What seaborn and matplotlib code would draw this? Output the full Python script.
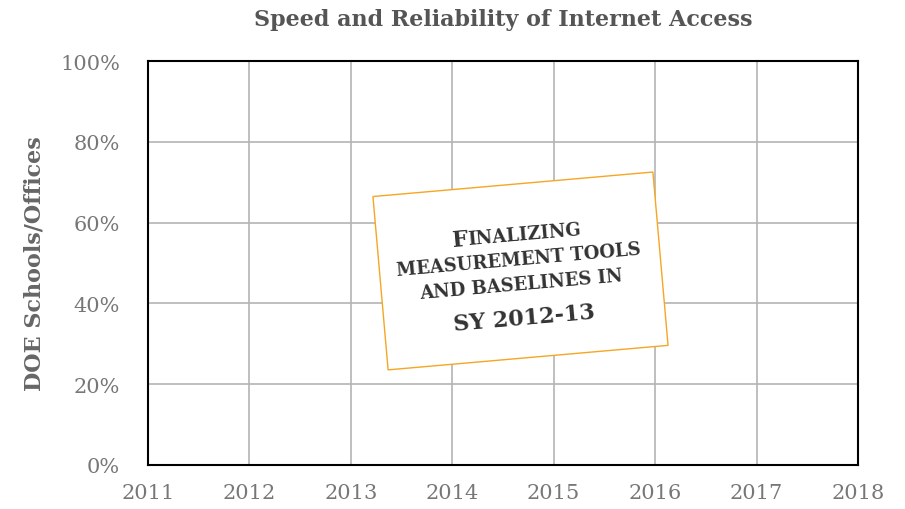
import matplotlib
matplotlib.use("Agg")
import matplotlib.pyplot as plt
import seaborn as sns
from matplotlib.patches import Rectangle
from matplotlib.transforms import Affine2D, IdentityTransform

# chart content
years = [2011, 2012, 2013, 2014, 2015, 2016, 2017, 2018]
pct_ticks = [0, 20, 40, 60, 80, 100]
pct_labels = ['0%', '20%', '40%', '60%', '80%', '100%']
title = 'Speed and Reliability of Internet Access'
ylabel = 'DOE Schools/Offices'

# note text: (large part, small-caps part, baseline offset in px)
note_lines = [('F', 'INALIZING', 31),
              ('', 'MEASUREMENT TOOLS', 7),
              ('', 'AND BASELINES IN', -18),
              ('SY 2012-13', '', -53)]

sns.set_theme(style='whitegrid')
plt.rcParams['font.family'] = ['DejaVu Serif']

fig = plt.figure(figsize=(9.05, 5.10), dpi=100)
ax = fig.add_axes([0.1635, 0.0863, 0.7845, 0.7921])
ax.set_facecolor('white')

ax.set_xlim(years[0], years[-1])
ax.set_ylim(pct_ticks[0], pct_ticks[-1])
ax.set_xticks(years)
ax.set_yticks(pct_ticks)
ax.set_yticklabels(pct_labels)
ax.grid(True, color='#b4b4b4', lw=1.2)

for s in ax.spines.values():
    s.set_visible(True)
    s.set_color('black')
    s.set_linewidth(1.5)

ax.tick_params(axis='both', length=0, labelsize=15, labelcolor='#777777')
ax.tick_params(axis='y', pad=20)
ax.tick_params(axis='x', pad=13)

ax.set_title(title, fontsize=16, fontweight='bold', color='#555555', pad=26)
ax.set_ylabel(ylabel, fontsize=16, fontweight='bold', color='#666666', labelpad=11)

# rotated note box in the middle
cx, cy = 520, 238
rot = Affine2D().rotate_deg_around(cx, cy, 5)
box = Rectangle((cx - 140, cy - 87), 281, 174, transform=rot,
                facecolor='white', edgecolor='#f5a623', lw=1, zorder=5)
fig.add_artist(box)

renderer = fig.canvas.get_renderer()
big, small = 16, 13


def text_width(s, size):
    if not s:
        return 0
    t = fig.text(0, 0, s, fontsize=size, fontweight='bold')
    w = t.get_window_extent(renderer).width
    t.remove()
    return w


for big_part, small_part, yb in note_lines:
    wb = text_width(big_part, big)
    ws = text_width(small_part, small)
    x0 = -(wb + ws) / 2
    for part, size, xoff in [(big_part, big, 0), (small_part, small, wb)]:
        if not part:
            continue
        px, py = rot.transform((cx + x0 + xoff, cy + yb))
        fig.text(px, py, part, transform=IdentityTransform(), rotation=5,
                 rotation_mode='anchor', ha='left', va='baseline',
                 fontsize=size, fontweight='bold', color='#333333', zorder=6)

fig.savefig('out.png', dpi=100)
